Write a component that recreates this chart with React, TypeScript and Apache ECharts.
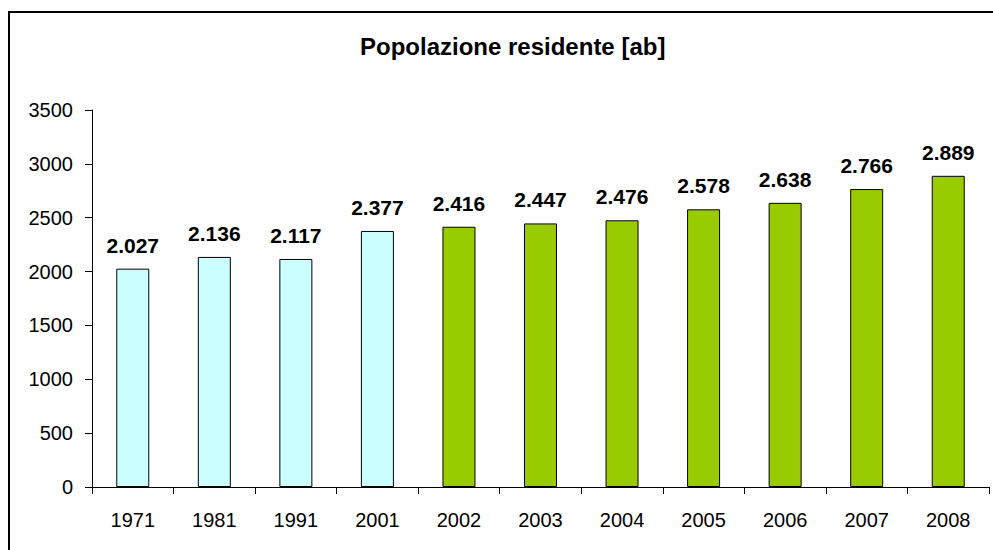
import React, { useEffect, useRef } from "react";
import * as echarts from "echarts";

const title = "Popolazione residente [ab]";
const years = ["1971", "1981", "1991", "2001", "2002", "2003", "2004", "2005", "2006", "2007", "2008"];
const population = [2027, 2136, 2117, 2377, 2416, 2447, 2476, 2578, 2638, 2766, 2889];
const censusCount = 4; // first four are census years

const CENSUS_COLOR = "#CCFFFF";
const ANNUAL_COLOR = "#99CC00";
const FONT = "'Liberation Sans', Arial, sans-serif";

function fmt(v: number): string {
  return String(v).replace(/\B(?=(\d{3})+(?!\d))/g, ".");
}

export default function App() {
  const ref = useRef<HTMLDivElement>(null);
  useEffect(() => {
    if (!ref.current) return;
    const chart = echarts.init(ref.current, null, { renderer: "svg" });
    chart.setOption({
      animation: false,
      backgroundColor: "#fff",
      textStyle: { fontFamily: FONT },
      title: {
        text: title,
        left: 355,
        top: 29,
        textStyle: { fontSize: 24, fontWeight: "bold", color: "#000", fontFamily: FONT },
      },
      graphic: [
        {
          type: "rect",
          shape: { x: 9, y: 12, width: 1000, height: 600 },
          style: { fill: "none", stroke: "#000", lineWidth: 2 },
          silent: true,
        },
      ],
      grid: { left: 92, right: 4, top: 110, bottom: 63, containLabel: false },
      xAxis: {
        type: "category",
        data: years,
        axisLine: { lineStyle: { color: "#000", width: 1 } },
        axisTick: { show: true, length: 7, alignWithLabel: false, lineStyle: { color: "#000" } },
        axisLabel: { color: "#000", fontSize: 20, margin: 23, fontFamily: FONT },
      },
      yAxis: {
        type: "value",
        min: 0,
        max: 3500,
        interval: 500,
        axisLine: { show: true, lineStyle: { color: "#000", width: 1 } },
        axisTick: { show: true, length: 7, lineStyle: { color: "#000" } },
        splitLine: { show: false },
        axisLabel: {
          color: "#000",
          fontSize: 20,
          margin: 19,
          fontFamily: FONT,
          formatter: (v: number) => String(v),
        },
      },
      series: [
        {
          type: "bar",
          barWidth: 33,
          data: population.map((v, i) => ({
            value: v,
            itemStyle: {
              color: i < censusCount ? CENSUS_COLOR : ANNUAL_COLOR,
              borderColor: "#000",
              borderWidth: 1,
            },
          })),
          label: {
            show: true,
            position: "top",
            distance: 13,
            color: "#000",
            fontSize: 21,
            fontWeight: "bold",
            fontFamily: FONT,
            formatter: (p: any) => fmt(p.value),
          },
        },
      ],
    });
    return () => chart.dispose();
  }, []);
  return <div ref={ref} style={{ position: "fixed", left: 0, top: 0, width: 993, height: 550 }} />;
}
